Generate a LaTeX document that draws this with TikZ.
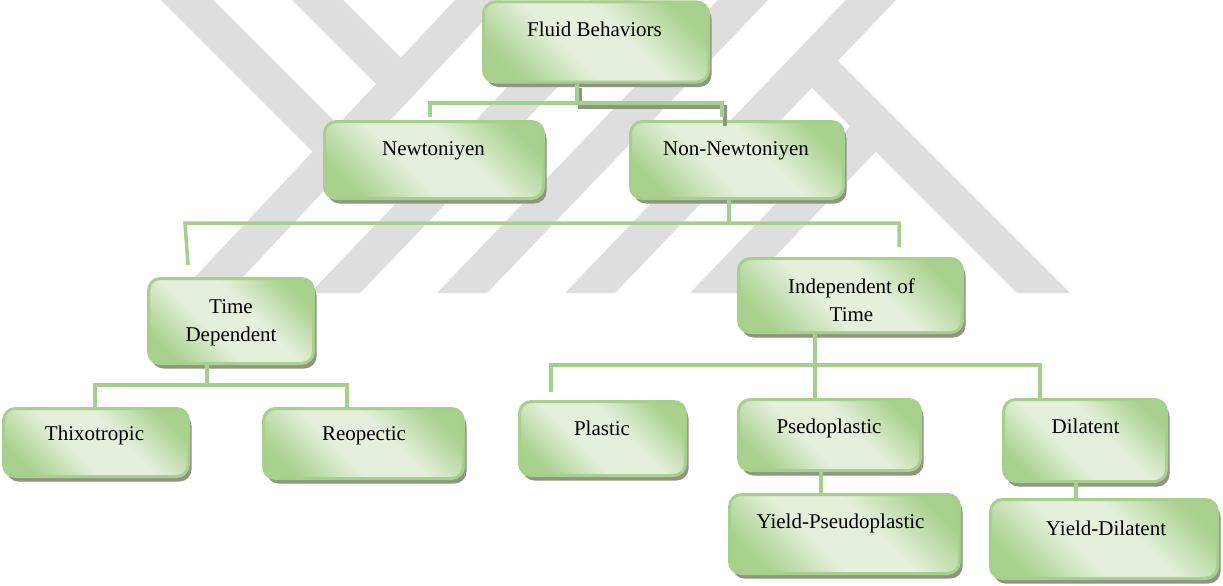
\documentclass[tikz,border=0pt]{standalone}
\usepackage{fontspec}
\setmainfont{Liberation Serif}
\usetikzlibrary{shadows}
\definecolor{gd}{RGB}{169,209,142}
\definecolor{gl}{RGB}{228,240,220}
\definecolor{gb}{RGB}{168,208,140}
\definecolor{gc}{RGB}{165,207,140}
\definecolor{shc}{RGB}{140,150,130}
\definecolor{wm}{RGB}{222,222,222}
\pgfdeclareverticalshading{boxshade}{100bp}{color(0bp)=(gd); color(24bp)=(gd); color(42bp)=(gl); color(58bp)=(gl); color(76bp)=(gd); color(100bp)=(gd)}
\begin{document}
\begin{tikzpicture}[x=1pt,y=-1pt,
  box/.style={rectangle, rounded corners=12pt, draw=gb, line width=3pt,
    shade, shading=boxshade, shading angle=-45, inner sep=0pt,
    drop shadow={shadow xshift=3pt, shadow yshift=-5pt, fill=shc, opacity=1}},
  lbl/.style={font=\fontsize{21}{28.5}\selectfont, inner sep=0pt, align=center, text=black},
  conn/.style={draw=gc, line width=3.5pt},
  connsh/.style={draw=shc, line width=3.5pt}]
\useasboundingbox (0,0) rectangle (1223,586);
\fill[white] (0,0) rectangle (1223,586);
% watermark
\fill[wm] (180,293) -- (228,293) -- (503,0) -- (455,0) -- cycle;
\fill[wm] (310,293) -- (360,293) -- (641,0) -- (591,0) -- cycle;
\fill[wm] (437,293) -- (487,293) -- (768,0) -- (718,0) -- cycle;
\fill[wm] (565,293) -- (615,293) -- (896,0) -- (846,0) -- cycle;
\fill[wm] (690,293) -- (740,293) -- (889,138) -- (863,113) -- cycle;
\fill[wm] (161,0) -- (213,0) -- (350,137) -- (325,164) -- cycle;
\fill[wm] (292,0) -- (343,0) -- (413,70) -- (388,96) -- cycle;
\fill[wm] (825,48) -- (799,75) -- (1017,293) -- (1070,293) -- cycle;
% boxes
\node[box, minimum width=225pt, minimum height=80pt] (fb) at (596,42) {};
\node[box, minimum width=219pt, minimum height=77pt] (nw) at (434,160) {};
\node[box, minimum width=213pt, minimum height=77pt] (nn) at (737,160) {};
\node[box, minimum width=165pt, minimum height=85pt] (td) at (231,321) {};
\node[box, minimum width=224pt, minimum height=74pt] (idt) at (850.5,295.5) {};
\node[box, minimum width=185pt, minimum height=68pt] (thx) at (96,442.5) {};
\node[box, minimum width=200pt, minimum height=70pt] (reo) at (363.5,443.5) {};
\node[box, minimum width=166pt, minimum height=74pt] (pla) at (602.5,438.5) {};
\node[box, minimum width=182pt, minimum height=71pt] (pse) at (829.5,435) {};
\node[box, minimum width=163pt, minimum height=82pt] (dil) at (1085,440.5) {};
\node[box, minimum width=230pt, minimum height=79pt] (ypse) at (844.5,534) {};
\node[box, minimum width=227pt, minimum height=79pt] (ydil) at (1104,539) {};
% connector junctions
\coordinate (c1) at (577,103);
\coordinate (c1l) at (430,103);
\coordinate (c1r) at (722,103);
\coordinate (c3) at (729,223);
\coordinate (c3l) at (185,223);
\coordinate (c3r) at (901,223);
\coordinate (c3le) at (188,265);
\coordinate (c3re) at (899,247);
\coordinate (c4) at (207,385);
\coordinate (c4l) at (95,385);
\coordinate (c4r) at (347,385);
\coordinate (c5) at (815,365);
\coordinate (c5l) at (551,365);
\coordinate (c5r) at (1040,365);
\coordinate (c5le) at (551,392);
\coordinate (c6) at (821,480);
\coordinate (c7) at (1076,490);
% connectors
\draw[connsh, transform canvas={xshift=3pt,yshift=-4pt}] (fb.south -| c1) -- (c1) -- (c1r) -- ([yshift=-2pt]nn.north -| c1r);
\draw[conn] (fb.south -| c1) -- (c1) -- (c1l) -- ([yshift=3pt]nw.north -| c1l);
\draw[conn] (c1) -- (c1r) -- ([yshift=3pt]nn.north -| c1r);
\draw[conn] (nn.south -| c3) -- (c3);
\draw[conn] (c3le) -- (c3l) -- (c3r) -- (c3re |- c3r) -- (c3re);
\draw[conn] (td.south -| c4) -- (c4);
\draw[conn] (thx.north -| c4l) -- (c4l) -- (c4r) -- (reo.north -| c4r);
\draw[conn] (idt.south -| c5) -- (pse.north -| c5);
\draw[conn] (c5le) -- (c5l) -- (c5r) -- (dil.north -| c5r);
\draw[conn] (pse.south -| c6) -- (ypse.north -| c6);
\draw[conn] (dil.south -| c7) -- (ydil.north -| c7);
% labels
\node[lbl, anchor=base] (fbt) at (594.5,37) {Fluid Behaviors};
\node[lbl, anchor=base] (nwt) at (433.5,155) {Newtoniyen};
\node[lbl, anchor=base] (nnt) at (736,155) {Non-Newtoniyen};
\node[lbl, anchor=center] (tdt) at (231,322.6) {Time\\Dependent};
\node[lbl, anchor=center] (idtt) at (851.5,300) {Independent of\\Time};
\node[lbl, anchor=base] (thxt) at (94.5,440) {Thixotropic};
\node[lbl, anchor=base] (reot) at (364,440) {Reopectic};
\node[lbl, anchor=base] (plat) at (602,435) {Plastic};
\node[lbl, anchor=base] (pset) at (829,433) {Psedoplastic};
\node[lbl, anchor=base] (dilt) at (1085.5,433) {Dilatent};
\node[lbl, anchor=base] (ypset) at (840.5,528) {Yield-Pseudoplastic};
\node[lbl, anchor=base] (ydilt) at (1106,535) {Yield-Dilatent};
\end{tikzpicture}
\end{document}
